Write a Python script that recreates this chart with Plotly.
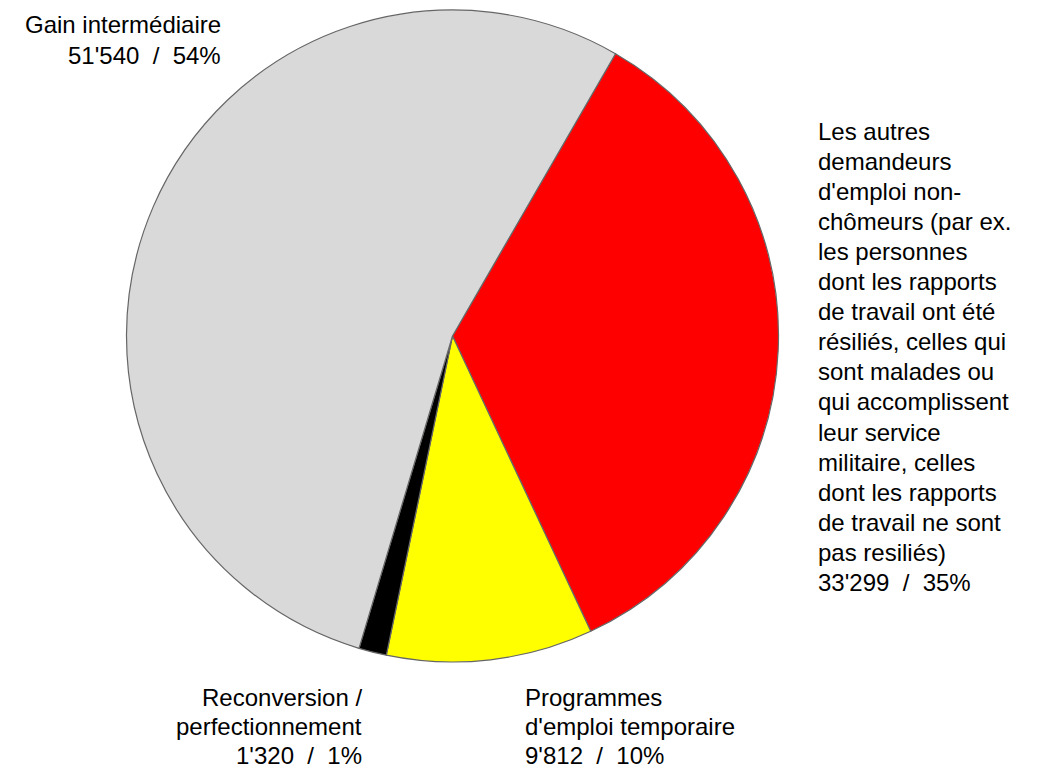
import plotly.graph_objects as go

# ---- data ----
categories = [
    "Les autres demandeurs d'emploi non-chômeurs",
    "Programmes d'emploi temporaire",
    "Reconversion / perfectionnement",
    "Gain intermédiaire",
]
values = [33299, 9812, 1320, 51540]
colors = ["#ff0000", "#ffff00", "#000000", "#d9d9d9"]
label_lines = [
    ["Les autres", "demandeurs", "d'emploi non-", "chômeurs (par ex.",
     "les personnes", "dont les rapports", "de travail ont été",
     "résiliés, celles qui", "sont malades ou", "qui accomplissent",
     "leur service", "militaire, celles", "dont les rapports",
     "de travail ne sont", "pas resiliés)"],
    ["Programmes", "d'emploi temporaire"],
    ["Reconversion /", "perfectionnement"],
    ["Gain intermédiaire"],
]

# the page body has an 8px margin: work in page pixels and compensate
OFF = 8
W, H = 1038 - OFF, 771 - OFF
total = sum(values)


def px_x(x):
    return (x - OFF) / W


def px_y(y):
    return 1 - (y - OFF) / H


# label placement (page pixels): anchor x, first-line centre y, alignment, line step
label_pos = [
    (816, 131, "left", 30.1),
    (523, 697, "left", 29.0),
    (364, 697, "right", 29.0),
    (223, 25, "right", 30.0),
]

fig = go.Figure(go.Pie(
    labels=categories,
    values=values,
    sort=False,
    direction="clockwise",
    rotation=30,
    marker=dict(colors=colors, line=dict(color="#666666", width=1.2)),
    textinfo="none",
    hoverinfo="label+value+percent",
    showlegend=False,
    domain=dict(x=[px_x(126), px_x(779)], y=[px_y(662), px_y(10)]),
))

annotations = []
for cat_lines, v, (px, py, align, step) in zip(label_lines, values, label_pos):
    pct = round(100 * v / total)
    lines = cat_lines + [f"{v:,}".replace(",", "'") + f"  /  {pct}%"]
    for i, line in enumerate(lines):
        annotations.append(dict(
            x=px_x(px), y=px_y(py + i * step),
            xref="paper", yref="paper",
            xanchor=align, yanchor="middle",
            text=line, showarrow=False,
            font=dict(family="Liberation Sans, Arial, sans-serif", size=24, color="#000000"),
        ))

fig.update_layout(
    width=W, height=H,
    margin=dict(l=0, r=0, t=0, b=0),
    paper_bgcolor="white", plot_bgcolor="white",
    annotations=annotations,
)

fig.write_html("out.html")
